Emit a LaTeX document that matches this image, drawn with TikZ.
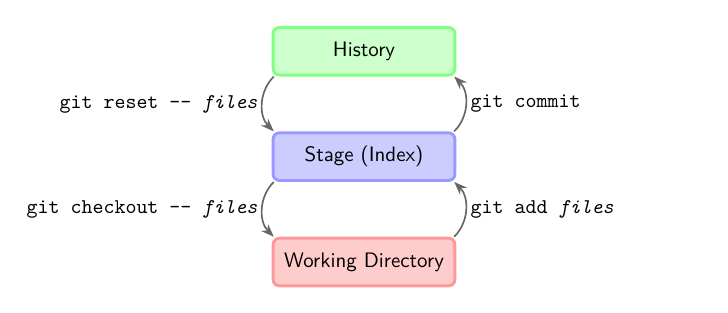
\documentclass[tikz,border=0pt]{standalone}
\usetikzlibrary{arrows.meta,positioning}
\tikzset{
  >={Stealth[length=2.2mm]},
  area/.style={draw=#1!40,fill=#1!20,line width=1.4pt,rounded corners=3pt,
    minimum width=3.05cm,minimum height=0.8cm,font=\sffamily},
  area/.default=green,
  move/.style={->,thick,draw=black!60},
  cmd/.style={font=\ttfamily,inner sep=2pt},
}

\begin{document}
\begin{tikzpicture}
  \useasboundingbox (0,0) rectangle (12.22,5.24);
  \node[area=green,draw=green!50] (hist) at (6.11,4.38) {History};
  \node[area=blue,below=9.2mm of hist] (stage) {Stage (Index)};
  \node[area=red,below=9.2mm of stage] (work) {Working Directory};
  % left: out of the repository
  \draw[move] ([xshift=1pt]hist.south west) to[bend right=45]
    node[cmd,left] {git reset -{}- \textit{files}} ([xshift=1pt]stage.north west);
  \draw[move] ([xshift=1pt]stage.south west) to[bend right=45]
    node[cmd,left] {git checkout -{}- \textit{files}} ([xshift=1pt]work.north west);
  % right: into the repository
  \draw[move] ([xshift=-1pt]stage.north east) to[bend right=45]
    node[cmd,right] {git commit} ([xshift=-1pt]hist.south east);
  \draw[move] ([xshift=-1pt]work.north east) to[bend right=45]
    node[cmd,right] {git add \textit{files}} ([xshift=-1pt]stage.south east);
\end{tikzpicture}
\end{document}
